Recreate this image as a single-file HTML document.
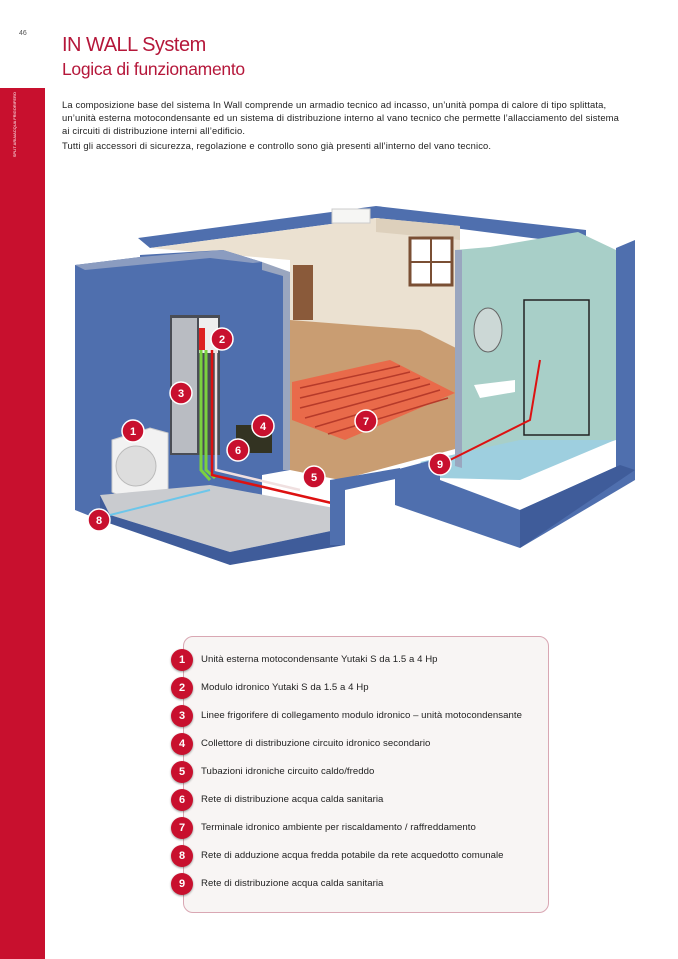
<!DOCTYPE html>
<html><head><meta charset="utf-8"><style>
body{margin:0;width:678px;height:959px;background:#fff;position:relative;overflow:hidden;font-family:"Liberation Sans",sans-serif}
.side{position:absolute;left:0;top:88px;width:45px;height:871px;background:#c8102e}
.sidetxt{position:absolute;left:12px;top:92px;width:20px;color:#fff;font-size:4px;writing-mode:vertical-rl;transform:rotate(180deg);line-height:5px}
.pn{position:absolute;left:19px;top:30px;font-size:7px;color:#555}
h1{position:absolute;left:62px;top:33px;margin:0;font-weight:normal;color:#b5173a;font-size:20px;line-height:24px;letter-spacing:-0.5px}
h2{position:absolute;left:62px;top:58px;margin:0;font-weight:normal;color:#b5173a;font-size:17.5px;line-height:22px;letter-spacing:-0.3px}
.intro{position:absolute;left:62px;top:98px;font-size:9.4px;line-height:13px;color:#222;white-space:nowrap;letter-spacing:0.15px}
.box{position:absolute;left:183px;top:636px;width:364px;height:275px;border:1px solid #d9a7b3;border-radius:10px;background:#f8f5f4}
.it{position:absolute;left:171px;width:420px;height:22px;font-size:9.6px;color:#222;white-space:nowrap;letter-spacing:0.05px}
.it b{position:absolute;left:0;top:0;width:22px;height:22px;border-radius:50%;background:#c8102e;color:#fff;font-size:11px;text-align:center;line-height:22px;box-shadow:0 1px 2px rgba(0,0,0,.4);letter-spacing:0}
.it span{position:absolute;left:30px;top:5px}
</style></head><body>
<div class="pn">46</div>
<div class="side"></div>
<div class="sidetxt">SPLIT ARIA/ACQUA FRIGORIFERO</div>
<h1>IN WALL System</h1>
<h2>Logica di funzionamento</h2>
<div class="intro">La composizione base del sistema In Wall comprende un armadio tecnico ad incasso, un’unità pompa di calore di tipo splittata,<br>un’unità esterna motocondensante ed un sistema di distribuzione interno al vano tecnico che permette l’allacciamento del sistema<br>ai circuiti di distribuzione interni all’edificio.<br><span style="display:inline-block;margin-top:2px">Tutti gli accessori di sicurezza, regolazione e controllo sono già presenti all’interno del vano tecnico.</span></div>

<svg style="position:absolute;left:0;top:0" width="678" height="600" viewBox="0 0 678 600">
<polygon points="138,238 376,206 586,230 586,245 376,218 150,248" fill="#4f6fae"/>
<polygon points="150,248 376,218 460,226 460,360 290,365 290,260" fill="#ebe1d1"/>
<polygon points="376,218 460,226 460,240 376,232" fill="#ddd0bc"/>
<rect x="293" y="265" width="20" height="55" fill="#8a5a3a"/>
<rect x="410" y="238" width="42" height="47" fill="#fff" stroke="#7a4f34" stroke-width="3"/>
<line x1="431" y1="238" x2="431" y2="285" stroke="#7a4f34" stroke-width="2"/>
<line x1="410" y1="262" x2="452" y2="262" stroke="#7a4f34" stroke-width="2"/>
<rect x="332" y="209" width="38" height="14" fill="#f6f6f4" stroke="#ccc"/>
<polygon points="290,320 420,330 470,355 470,445 340,480 290,470" fill="#c99d72"/>
<polygon points="292,382 390,360 455,393 345,440 292,420" fill="#e96a4a"/>
<g stroke="#b63a2a" stroke-width="1.5">
<line x1="300" y1="388" x2="400" y2="366"/><line x1="300" y1="398" x2="410" y2="372"/><line x1="300" y1="408" x2="420" y2="378"/><line x1="305" y1="418" x2="430" y2="384"/><line x1="315" y1="427" x2="440" y2="390"/><line x1="328" y1="434" x2="448" y2="398"/>
</g>
<polygon points="75,265 140,257 140,255 223,250 262,262 262,268 290,274 290,470 262,475 262,495 100,495 100,520 75,510" fill="#4f6fae"/>
<polygon points="75,265 140,257 223,250 262,262 253,263 210,258 85,270" fill="#8b9cc0"/>
<polygon points="262,262 290,272 290,470 283,470 283,276 262,270" fill="#9aa6bf"/>
<rect x="170" y="315" width="50" height="140" fill="#4a4d55"/>
<rect x="172" y="318" width="25" height="135" fill="#b9bcc2"/>
<rect x="199" y="318" width="19" height="35" fill="#eee"/>
<rect x="199" y="328" width="6" height="22" fill="#d22"/>
<path d="M201 350 L201 470 L210 480" stroke="#7bd23f" stroke-width="3" fill="none"/>
<path d="M206 350 L206 470 L215 478" stroke="#7bd23f" stroke-width="3" fill="none"/>
<path d="M212 350 L212 475 L340 505" stroke="#d11" stroke-width="2.5" fill="none"/>
<path d="M216 350 L216 470 L300 490" stroke="#f0e0e0" stroke-width="2.5" fill="none"/>
<polygon points="112,440 150,428 168,433 168,490 128,500 112,492" fill="#f2f2f2" stroke="#ccc"/>
<circle cx="136" cy="466" r="20" fill="#ddd" stroke="#bbb"/>
<rect x="236" y="425" width="36" height="28" fill="#332"/>
<polygon points="100,495 210,485 345,510 345,528 230,552 110,515" fill="#c9cbcf"/>
<polygon points="100,495 100,520 230,565 230,552 110,515" fill="#3f5c9a"/>
<polygon points="230,552 345,528 345,545 230,565" fill="#3f5c9a"/>
<line x1="110" y1="515" x2="210" y2="490" stroke="#6cc6ea" stroke-width="2"/>
<polygon points="330,480 400,468 400,478 345,490 345,545 330,545" fill="#4f6fae"/>
<polygon points="455,250 490,247 578,232 616,250 616,440 520,470 455,460" fill="#a8cfc8"/>
<polygon points="420,462 520,440 615,440 520,480 440,478" fill="#9ecfdf"/>
<polygon points="455,250 462,250 462,468 455,466" fill="#9aa6bf"/>
<polygon points="616,248 635,240 635,470 616,470" fill="#4f6fae"/>
<polygon points="395,470 440,458 440,480 520,510 620,465 635,470 635,480 520,548 395,505" fill="#4f6fae"/>
<polygon points="520,510 620,465 635,470 520,548" fill="#3f5c9a"/>
<rect x="524" y="300" width="65" height="135" fill="none" stroke="#222" stroke-width="1.5"/>
<ellipse cx="488" cy="330" rx="14" ry="22" fill="#ccd8d6" stroke="#666"/>
<polygon points="474,385 515,380 515,392 480,398" fill="#fff"/>
<path d="M440 465 L530 420 L540 360" stroke="#d11" stroke-width="2" fill="none"/>
<g font-family="Liberation Sans" font-weight="bold" font-size="11" fill="#fff" text-anchor="middle">
<g fill="#c8102e" stroke="#fff" stroke-width="1.5">
<circle cx="133" cy="431" r="11"/><circle cx="222" cy="339" r="11"/><circle cx="181" cy="393" r="11"/><circle cx="263" cy="426" r="11"/><circle cx="314" cy="477" r="11"/><circle cx="238" cy="450" r="11"/><circle cx="366" cy="421" r="11"/><circle cx="99" cy="520" r="11"/><circle cx="440" cy="464" r="11"/>
</g>
<text x="133" y="435">1</text><text x="222" y="343">2</text><text x="181" y="397">3</text><text x="263" y="430">4</text><text x="314" y="481">5</text><text x="238" y="454">6</text><text x="366" y="425">7</text><text x="99" y="524">8</text><text x="440" y="468">9</text>
</g>
</svg>

<div class="box"></div>
<div class="it" style="top:649px"><b>1</b><span>Unità esterna motocondensante Yutaki S da 1.5 a 4 Hp</span></div>
<div class="it" style="top:677px"><b>2</b><span>Modulo idronico Yutaki S da 1.5 a 4 Hp</span></div>
<div class="it" style="top:705px"><b>3</b><span>Linee frigorifere di collegamento modulo idronico – unità motocondensante</span></div>
<div class="it" style="top:733px"><b>4</b><span>Collettore di distribuzione circuito idronico secondario</span></div>
<div class="it" style="top:761px"><b>5</b><span>Tubazioni idroniche circuito caldo/freddo</span></div>
<div class="it" style="top:789px"><b>6</b><span>Rete di distribuzione acqua calda sanitaria</span></div>
<div class="it" style="top:817px"><b>7</b><span>Terminale idronico ambiente per riscaldamento / raffreddamento</span></div>
<div class="it" style="top:845px"><b>8</b><span>Rete di adduzione acqua fredda potabile da rete acquedotto comunale</span></div>
<div class="it" style="top:873px"><b>9</b><span>Rete di distribuzione acqua calda sanitaria</span></div>
</body></html>
